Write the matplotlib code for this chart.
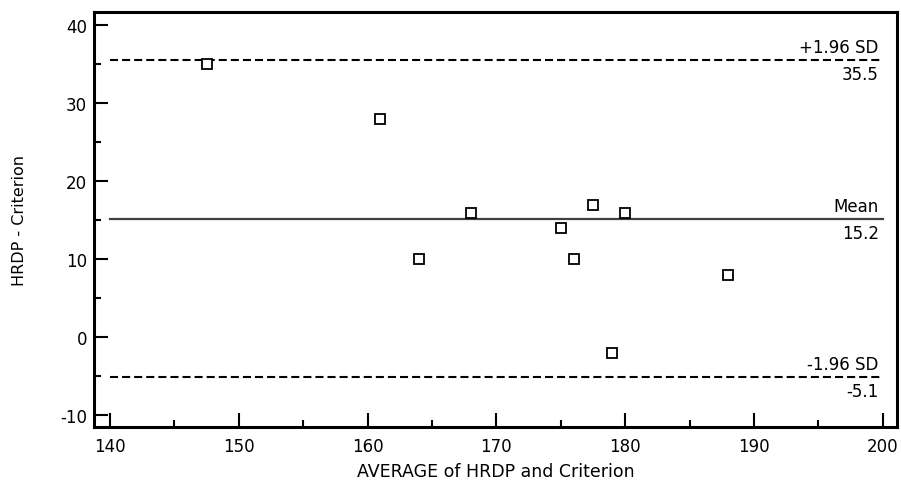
import matplotlib.pyplot as plt
from matplotlib.ticker import MultipleLocator

plt.rcParams['font.family'] = ['DejaVu Sans']
plt.rcParams['lines.scale_dashes'] = False
plt.rcParams['axes.unicode_minus'] = False

# average of the two methods, and their difference
average = [147.5, 161, 164, 168, 175, 176, 177.5, 180, 179, 188]
difference = [35, 28, 10, 16, 14, 10, 17, 16, -2, 8]

mean_diff = 15.2
upper_loa = 35.5
lower_loa = -5.1

fig = plt.figure(figsize=(9.01, 4.81), dpi=100)
ax = fig.add_axes([0.1043, 0.110, 0.8913, 0.863])

ax.plot(average, difference, linestyle='none', marker='s', markersize=6.5,
        markerfacecolor='white', markeredgecolor='black', markeredgewidth=1.3, zorder=3)

# mean and limits of agreement
ax.plot([140, 200], [upper_loa, upper_loa], color='black', linewidth=1.5, dashes=(5.8, 2.9))
ax.plot([140, 200], [mean_diff, mean_diff], color='#404040', linewidth=1.6)
ax.plot([140, 200], [lower_loa, lower_loa], color='black', linewidth=1.5, dashes=(5.8, 2.9))

for yv, top, bottom in [(upper_loa, '+1.96 SD', '35.5'),
                        (mean_diff, 'Mean', '15.2'),
                        (lower_loa, '-1.96 SD', '-5.1')]:
    ax.annotate(top, (200, yv), xytext=(-3, 3), textcoords='offset points',
                ha='right', va='bottom', fontsize=12)
    ax.annotate(bottom, (200, yv), xytext=(-3, -3.5), textcoords='offset points',
                ha='right', va='top', fontsize=12)

ax.set_xlim(138.76, 201.1)
ax.set_ylim(-11.5, 41.7)
ax.xaxis.set_major_locator(MultipleLocator(10))
ax.xaxis.set_minor_locator(MultipleLocator(5))
ax.yaxis.set_major_locator(MultipleLocator(10))
ax.yaxis.set_minor_locator(MultipleLocator(5))

ax.tick_params(which='both', direction='in', top=False, right=False, width=1.5)
ax.tick_params(which='major', length=10, labelsize=12)
ax.tick_params(which='minor', length=5)
ax.tick_params(axis='x', which='major', pad=7)
ax.tick_params(axis='y', which='major', pad=5)

for s in ax.spines.values():
    s.set_linewidth(2.2)

ax.set_xlabel('AVERAGE of HRDP and Criterion', fontsize=12.5, labelpad=5)
ax.set_ylabel('HRDP - Criterion', fontsize=11.5, labelpad=24)

fig.savefig('out.png', dpi=100)
